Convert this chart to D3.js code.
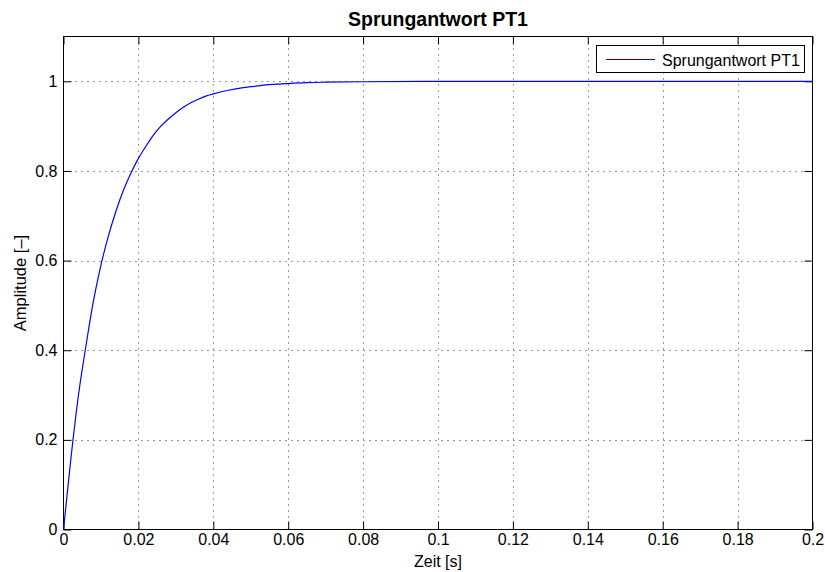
<!DOCTYPE html>
<html>
<head>
<meta charset="utf-8">
<script src="https://cdn.jsdelivr.net/npm/d3@7"></script>
<style>
  html, body { margin: 0; padding: 0; background: #fff; }
  svg { display: block; font-family: "Liberation Sans", Arial, Helvetica, sans-serif; }
</style>
</head>
<body>
<svg id="chart" width="825" height="572"></svg>
<script>
// Step response of a first-order lag element (PT1)
const zeit = [0, 0.002, 0.004, 0.006, 0.008, 0.010, 0.012, 0.014, 0.016, 0.018,
              0.020, 0.022, 0.024, 0.026, 0.028, 0.030, 0.032, 0.034, 0.036, 0.038,
              0.040, 0.044, 0.048, 0.052, 0.056, 0.060, 0.065, 0.070, 0.080, 0.100, 0.200];
const amplitude = [0, 0.16, 0.30, 0.41, 0.51, 0.59, 0.655, 0.71, 0.757, 0.795,
                   0.828, 0.855, 0.880, 0.900, 0.916, 0.930, 0.942, 0.952, 0.960, 0.967,
                   0.972, 0.980, 0.986, 0.990, 0.993, 0.995, 0.997, 0.998, 0.999, 1.0, 1.0];
const xTicks = [0, 0.02, 0.04, 0.06, 0.08, 0.1, 0.12, 0.14, 0.16, 0.18, 0.2];
const yTicks = [0, 0.2, 0.4, 0.6, 0.8, 1];
const xDomain = [0, 0.2];
const yDomain = [0, 1.1];
const titleText = "Sprungantwort PT1";
const xLabel = "Zeit [s]";
const yLabel = "Amplitude [\u2013]";
const legendText = "Sprungantwort PT1";

const svg = d3.select("#chart");
const m = { left: 63.5, right: 812.5, top: 36.5, bottom: 529.5 };

const x = d3.scaleLinear().domain(xDomain).range([m.left, m.right]);
const y = d3.scaleLinear().domain(yDomain).range([m.bottom, m.top]);

// dotted grid
const grid = svg.append("g").attr("stroke", "#333").attr("stroke-width", 1)
  .attr("stroke-dasharray", "1,5");
grid.selectAll(".gx").data(xTicks.slice(1, -1)).join("line")
  .attr("x1", d => Math.round(x(d)) + 0.5).attr("x2", d => Math.round(x(d)) + 0.5)
  .attr("y1", m.top).attr("y2", m.bottom);
grid.selectAll(".gy").data(yTicks.slice(1)).join("line")
  .attr("y1", d => Math.round(y(d)) + 0.5).attr("y2", d => Math.round(y(d)) + 0.5)
  .attr("x1", m.left).attr("x2", m.right);

// axes with inward ticks, mirrored on top and right
const fmt = d => String(d);
const tickLen = 8;
const axB = svg.append("g").attr("transform", `translate(0,${m.bottom})`)
  .call(d3.axisBottom(x).tickValues(xTicks).tickFormat(fmt).tickSizeInner(-tickLen).tickSizeOuter(0).tickPadding(4));
const axT = svg.append("g").attr("transform", `translate(0,${m.top})`)
  .call(d3.axisTop(x).tickValues(xTicks).tickFormat("").tickSizeInner(-tickLen).tickSizeOuter(0));
const axL = svg.append("g").attr("transform", `translate(${m.left},0)`)
  .call(d3.axisLeft(y).tickValues(yTicks).tickFormat(fmt).tickSizeInner(-tickLen).tickSizeOuter(0).tickPadding(6));
const axR = svg.append("g").attr("transform", `translate(${m.right},0)`)
  .call(d3.axisRight(y).tickValues(yTicks).tickFormat("").tickSizeInner(-tickLen).tickSizeOuter(0));
[axB, axT, axL, axR].forEach(a => {
  a.select(".domain").remove();
  a.selectAll("line").attr("stroke", "#000");
  a.selectAll("text").attr("fill", "#000").attr("font-size", 16)
    .attr("font-family", "'Liberation Sans', Arial, sans-serif");
});

// frame
svg.append("rect").attr("x", m.left).attr("y", m.top)
  .attr("width", m.right - m.left).attr("height", m.bottom - m.top)
  .attr("fill", "none").attr("stroke", "#000").attr("stroke-width", 1);

// response curve
const pts = zeit.map((t, i) => [t, amplitude[i]]);
const line = d3.line().x(d => x(d[0])).y(d => y(d[1])).curve(d3.curveMonotoneX);
svg.append("path").datum(pts).attr("d", line)
  .attr("fill", "none").attr("stroke", "#0000ff").attr("stroke-width", 1.2);

// title and axis labels
svg.append("text").attr("x", (m.left + m.right) / 2).attr("y", 26)
  .attr("text-anchor", "middle").attr("font-size", 19.5).attr("font-weight", "bold")
  .text(titleText);
svg.append("text").attr("x", (m.left + m.right) / 2).attr("y", 567)
  .attr("text-anchor", "middle").attr("font-size", 16).text(xLabel);
svg.append("text").attr("transform", `translate(26,${(m.top + m.bottom) / 2}) rotate(-90)`)
  .attr("text-anchor", "middle").attr("font-size", 16.5).text(yLabel);

// legend
const lg = svg.append("g");
lg.append("rect").attr("x", 596.5).attr("y", 45.5).attr("width", 208).attr("height", 27)
  .attr("fill", "#fff").attr("stroke", "#000");
lg.append("line").attr("x1", 606).attr("x2", 655).attr("y1", 59.5).attr("y2", 59.5)
  .attr("stroke", "#0000ff").attr("stroke-width", 1.2);
lg.append("text").attr("x", 662).attr("y", 66).attr("font-size", 16).text(legendText);
</script>
</body>
</html>
